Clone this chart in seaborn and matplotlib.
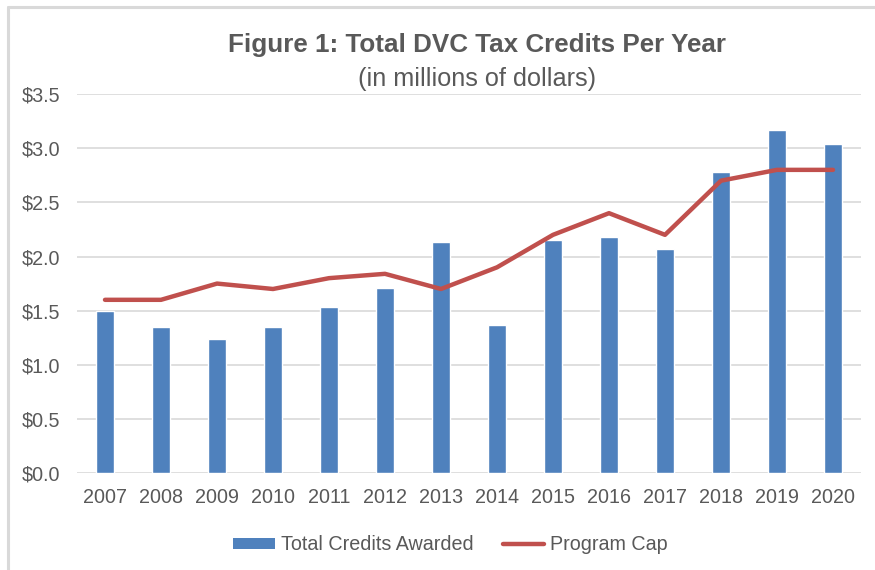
import matplotlib
matplotlib.use("Agg")
import matplotlib.pyplot as plt
import seaborn as sns
import pandas as pd
from matplotlib.lines import Line2D
from matplotlib.patches import Patch

# values (millions of dollars)
years = ["2007", "2008", "2009", "2010", "2011", "2012", "2013",
         "2014", "2015", "2016", "2017", "2018", "2019", "2020"]
credits_awarded = [1.50, 1.35, 1.24, 1.35, 1.53, 1.71, 2.13,
                   1.37, 2.15, 2.18, 2.07, 2.78, 3.17, 3.04]
program_cap = [1.60, 1.60, 1.75, 1.70, 1.80, 1.84, 1.70,
               1.90, 2.20, 2.40, 2.20, 2.70, 2.80, 2.80]

df = pd.DataFrame({"year": years, "credits": credits_awarded, "cap": program_cap})

sns.set_style("white")
plt.rcParams["font.family"] = ["Liberation Sans", "DejaVu Sans"]

text_col = "#595959"
blue = "#4F81BD"
red = "#C0504D"

fig = plt.figure(figsize=(8.75, 5.7), dpi=100)
ax = fig.add_axes([0.088, 0.170, 0.896, 0.665])

sns.barplot(data=df, x="year", y="credits", color=blue, width=0.32,
            saturation=1, ax=ax, zorder=2)
sns.lineplot(data=df, x="year", y="cap", color=red, linewidth=3.2,
             sort=False, ax=ax, zorder=3, solid_capstyle="round")

ax.set_ylim(0, 3.5)
ax.set_xlim(-0.5, len(years) - 0.5)
ax.set_yticks([0, 0.5, 1.0, 1.5, 2.0, 2.5, 3.0, 3.5])
ax.set_yticklabels([f"${v:.1f}" for v in ax.get_yticks()])
ax.yaxis.grid(True, color="#d9d9d9", linewidth=1.2, zorder=0)
ax.set_axisbelow(True)
for s in ax.spines.values():
    s.set_visible(False)
ax.tick_params(axis="both", length=0, labelsize=14.2, labelcolor=text_col)
ax.tick_params(axis="x", pad=11)
ax.tick_params(axis="y", pad=12)
ax.set_xlabel("")
ax.set_ylabel("")

fig.text(0.545, 0.921, "Figure 1: Total DVC Tax Credits Per Year", ha="center",
         va="center", fontsize=18.7, fontweight="bold", color=text_col)
fig.text(0.545, 0.862, "(in millions of dollars)", ha="center", va="center",
         fontsize=18.2, color=text_col)

handles = [Patch(facecolor=blue, edgecolor="none"),
           Line2D([0], [0], color=red, linewidth=3.2, solid_capstyle="round")]
fig.legend(handles, ["Total Credits Awarded", "Program Cap"], loc="center",
           bbox_to_anchor=(0.515, 0.044), ncol=2, frameon=False, fontsize=14.2,
           labelcolor=text_col, handlelength=2.1, handleheight=0.55,
           columnspacing=1.5, handletextpad=0.3)

# light border of the original chart box
fig.add_artist(Line2D([0.009, 1.0], [0.987, 0.987], color="#d9d9d9", linewidth=2.2,
                      transform=fig.transFigure))
fig.add_artist(Line2D([0.009, 0.009], [0.0, 0.987], color="#d9d9d9", linewidth=2.2,
                      transform=fig.transFigure))

fig.savefig("out.png", dpi=100)
